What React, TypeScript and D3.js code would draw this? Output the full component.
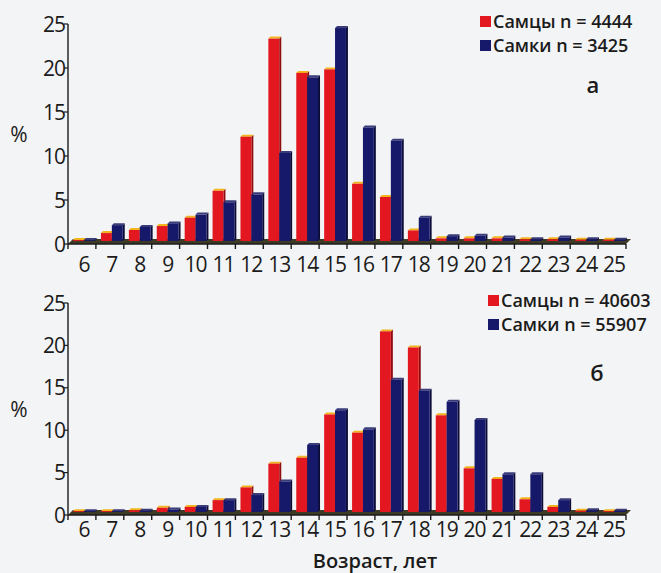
import { useEffect, useRef } from 'react';
import * as d3 from 'd3';

// Age categories (x tick labels)
const ages = ['6', '7', '8', '9', '10', '11', '12', '13', '14', '15', '16', '17', '18', '19', '20', '21', '22', '23', '24', '25'];
const yTicks = [0, 5, 10, 15, 20, 25];

// Panel a (percent)
const malesA = [0.1, 0.9, 1.25, 1.7, 2.65, 5.7, 11.85, 23.0, 19.1, 19.5, 6.5, 5.0, 1.2, 0.3, 0.3, 0.3, 0.2, 0.2, 0.15, 0.15];
const femalesA = [0.1, 1.8, 1.6, 2.0, 3.0, 4.4, 5.3, 10.0, 18.6, 24.2, 12.9, 11.4, 2.65, 0.55, 0.6, 0.4, 0.2, 0.4, 0.2, 0.15];
const legendA = ['Самцы n = 4444', 'Самки n = 3425'];

// Panel б (percent)
const malesB = [0.1, 0.1, 0.2, 0.5, 0.6, 1.4, 2.9, 5.7, 6.4, 11.5, 9.35, 21.3, 19.4, 11.4, 5.15, 3.9, 1.5, 0.6, 0.15, 0.1];
const femalesB = [0.1, 0.1, 0.15, 0.3, 0.6, 1.4, 2.0, 3.6, 7.9, 12.0, 9.75, 15.6, 14.3, 13.0, 10.85, 4.45, 4.45, 1.4, 0.2, 0.15];
const legendB = ['Самцы n = 40603', 'Самки n = 55907'];

const W = 661;
const H = 573;
const FONT = '"Open Sans", sans-serif';
const INK = '#1b1b1b';

const series = [
  { key: 'm', front: '#e3171f', side: '#8f0d10', top: '#f2b51c' },
  { key: 'f', front: '#16186a', side: '#0a0b38', top: '#3a3c7a' },
];

interface PanelCfg {
  top: number;
  bottom: number;
  labelGap: number;
  males: number[];
  females: number[];
  legend: string[];
  legendX: number;
  legendY: number;
  letter: string;
  letterX: number;
  letterY: number;
}

function drawPanel(svg: d3.Selection<SVGSVGElement, unknown, null, undefined>, cfg: PanelCfg) {
  const x0 = 68;
  const x1 = 626;
  const dx = 2; // 3D shift of bars
  const dy = 3;
  const d = 2; // depth of top/side face

  const y = d3.scaleLinear().domain([0, 25]).range([cfg.bottom, cfg.top]);
  const x = d3.scaleBand().domain(ages).range([x0, x1]).paddingInner(0.22).paddingOuter(0.11);
  const sub = d3.scaleBand().domain(['m', 'f']).range([0, x.bandwidth()]);

  const g = svg.append('g');
  const base = y(0);

  // floor
  g.append('polygon')
    .attr('points', [[x0, base], [x1, base], [x1 + 5, base - 5], [x0 + 5, base - 5]].map(p => p.join(',')).join(' '))
    .attr('fill', '#3d3a26');

  // bars
  ages.forEach((age, i) => {
    [cfg.males[i], cfg.females[i]].forEach((v, j) => {
      const s = series[j];
      const bx = (x(age) || 0) + (sub(s.key) || 0) + dx;
      const bw = sub.bandwidth();
      const by = y(v) - dy;
      const bh = base - dy - by;
      const bar = g.append('g');
      // side face
      bar.append('polygon')
        .attr('points', [[bx + bw, by], [bx + bw + d, by - d], [bx + bw + d, by + bh - d], [bx + bw, by + bh]].map(p => p.join(',')).join(' '))
        .attr('fill', s.side);
      // top face
      bar.append('polygon')
        .attr('points', [[bx, by], [bx + d, by - d], [bx + bw + d, by - d], [bx + bw, by]].map(p => p.join(',')).join(' '))
        .attr('fill', s.top);
      bar.append('rect')
        .attr('x', bx)
        .attr('y', by)
        .attr('width', bw)
        .attr('height', bh)
        .attr('fill', s.front);
    });
  });

  // x axis
  g.append('line')
    .attr('x1', x0).attr('x2', x1)
    .attr('y1', base).attr('y2', base)
    .attr('stroke', INK).attr('stroke-width', 1.6);

  const bounds = ages.map(a => (x(a) || 0) - x.step() * 0.11).concat([x1]);
  g.selectAll('.xtick')
    .data(bounds)
    .enter().append('line')
    .attr('x1', dv => dv).attr('x2', dv => dv)
    .attr('y1', base).attr('y2', base + 5)
    .attr('stroke', INK).attr('stroke-width', 1.4);

  g.selectAll('.xlab')
    .data(ages)
    .enter().append('text')
    .attr('x', a => (x(a) || 0) + x.bandwidth() / 2 + 2)
    .attr('y', base + cfg.labelGap)
    .attr('text-anchor', 'middle')
    .style('font-family', FONT)
    .style('font-size', '21px')
    .style('fill', INK)
    .style('letter-spacing', '-1px')
    .text(a => a);

  // y axis
  g.append('line')
    .attr('x1', x0).attr('x2', x0)
    .attr('y1', y(25)).attr('y2', base)
    .attr('stroke', INK).attr('stroke-width', 1.4);

  g.selectAll('.ytick')
    .data(yTicks)
    .enter().append('line')
    .attr('x1', x0 - 4).attr('x2', x0)
    .attr('y1', t => y(t)).attr('y2', t => y(t))
    .attr('stroke', INK).attr('stroke-width', 1.2);

  g.selectAll('.ylab')
    .data(yTicks)
    .enter().append('text')
    .attr('x', x0 - 3)
    .attr('y', t => y(t))
    .attr('dy', '0.36em')
    .attr('text-anchor', 'end')
    .style('font-family', FONT)
    .style('font-size', '21px')
    .style('fill', INK)
    .style('letter-spacing', '-1px')
    .text(t => t);

  g.append('text')
    .attr('x', 19)
    .attr('y', (y(10) + y(15)) / 2 + 8)
    .attr('text-anchor', 'middle')
    .style('font-family', FONT)
    .style('font-size', '21px')
    .style('fill', INK)
    .text('%');

  // legend
  cfg.legend.forEach((label, i) => {
    const ly = cfg.legendY + i * 24;
    g.append('rect')
      .attr('x', cfg.legendX)
      .attr('y', ly - 12)
      .attr('width', 11)
      .attr('height', 11)
      .attr('fill', series[i].front);
    g.append('text')
      .attr('x', cfg.legendX + 13)
      .attr('y', ly)
      .style('font-family', FONT)
      .style('font-size', '18px')
      .style('font-weight', '600')
      .style('fill', INK)
      .text(label);
  });

  g.append('text')
    .attr('x', cfg.letterX)
    .attr('y', cfg.letterY)
    .attr('text-anchor', 'middle')
    .style('font-family', FONT)
    .style('font-size', '22px')
    .style('font-weight', '600')
    .style('fill', INK)
    .text(cfg.letter);
}

export default function App() {
  const svgRef = useRef<SVGSVGElement>(null);

  useEffect(() => {
    if (!svgRef.current) return;
    const svg = d3.select(svgRef.current);
    svg.selectAll('*').remove();

    svg.append('rect').attr('width', W).attr('height', H).attr('fill', '#f3f4f5');

    drawPanel(svg, {
      top: 24, bottom: 244, labelGap: 28,
      males: malesA, females: femalesA,
      legend: legendA, legendX: 480, legendY: 28,
      letter: 'а', letterX: 593, letterY: 93,
    });

    drawPanel(svg, {
      top: 303, bottom: 515, labelGap: 22,
      males: malesB, females: femalesB,
      legend: legendB, legendX: 488, legendY: 307,
      letter: 'б', letterX: 597, letterY: 381,
    });

    svg.append('text')
      .attr('x', 375)
      .attr('y', 568)
      .attr('text-anchor', 'middle')
      .style('font-family', FONT)
      .style('font-size', '20px')
      .style('font-weight', '600')
      .style('fill', INK)
      .text('Возраст, лет');
  }, []);

  return (
    <svg
      ref={svgRef}
      width={W}
      height={H}
      style={{ position: 'fixed', left: 0, top: 0, display: 'block' }}
    />
  );
}
